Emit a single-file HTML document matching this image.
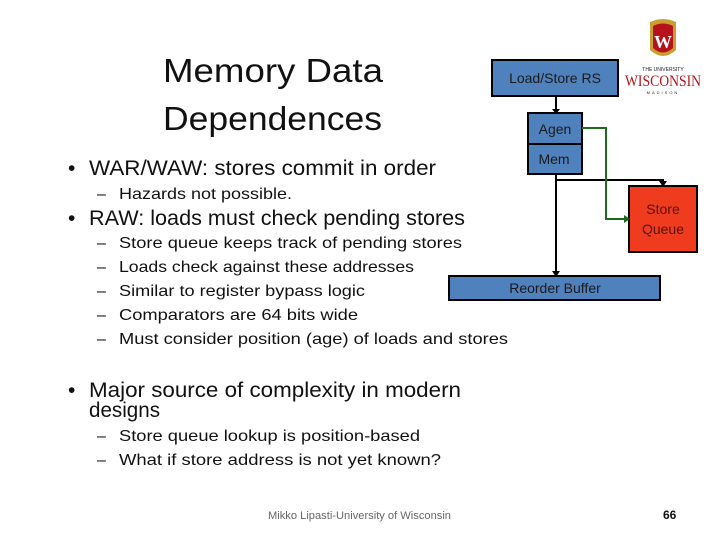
<!DOCTYPE html>
<html><head><style>body{margin:0;background:#fff}svg{display:block}</style></head><body>
<svg width="720" height="540" xmlns="http://www.w3.org/2000/svg" font-family="Liberation Sans, sans-serif">
<rect width="720" height="540" fill="#fff"/>
<g fill="#111">
<text x="163" y="82" font-size="33" textLength="220" lengthAdjust="spacingAndGlyphs">Memory Data</text>
<text x="163" y="130" font-size="33" textLength="219" lengthAdjust="spacingAndGlyphs">Dependences</text>
<text x="68" y="175" font-size="21">•</text>
<text x="89" y="175" font-size="21" textLength="347" lengthAdjust="spacingAndGlyphs">WAR/WAW: stores commit in order</text>
<text x="97" y="199" font-size="16">–</text>
<text x="119" y="199" font-size="16" textLength="173" lengthAdjust="spacingAndGlyphs">Hazards not possible.</text>
<text x="68" y="225" font-size="21">•</text>
<text x="89" y="225" font-size="21" textLength="376" lengthAdjust="spacingAndGlyphs">RAW: loads must check pending stores</text>
<g font-size="16">
<text x="97" y="248">–</text><text x="119" y="248" textLength="343" lengthAdjust="spacingAndGlyphs">Store queue keeps track of pending stores</text>
<text x="97" y="272">–</text><text x="119" y="272" textLength="295" lengthAdjust="spacingAndGlyphs">Loads check against these addresses</text>
<text x="97" y="296">–</text><text x="119" y="296" textLength="246" lengthAdjust="spacingAndGlyphs">Similar to register bypass logic</text>
<text x="97" y="320">–</text><text x="119" y="320" textLength="239" lengthAdjust="spacingAndGlyphs">Comparators are 64 bits wide</text>
<text x="97" y="344">–</text><text x="119" y="344" textLength="389" lengthAdjust="spacingAndGlyphs">Must consider position (age) of loads and stores</text>
</g>
<text x="68" y="397" font-size="21">•</text>
<text x="89" y="397" font-size="21" textLength="372" lengthAdjust="spacingAndGlyphs">Major source of complexity in modern</text>
<text x="89" y="417" font-size="21" textLength="71" lengthAdjust="spacingAndGlyphs">designs</text>
<g font-size="16">
<text x="97" y="441">–</text><text x="119" y="441" textLength="301" lengthAdjust="spacingAndGlyphs">Store queue lookup is position-based</text>
<text x="97" y="465">–</text><text x="119" y="465" textLength="322" lengthAdjust="spacingAndGlyphs">What if store address is not yet known?</text>
</g>
</g>
<text x="268" y="519" font-size="11" fill="#666" textLength="183" lengthAdjust="spacingAndGlyphs">Mikko Lipasti-University of Wisconsin</text>
<text x="663" y="519" font-size="12" font-weight="bold" fill="#111">66</text>

<!-- diagram -->
<g stroke="#000" stroke-width="2">
<rect x="492" y="60" width="126" height="36" fill="#4f81bd"/>
<rect x="528" y="113" width="54" height="31" fill="#4f81bd"/>
<rect x="528" y="144" width="54" height="30" fill="#4f81bd"/>
<rect x="629" y="186" width="68" height="66" fill="#f03c1e"/>
<rect x="449" y="276" width="211" height="24" fill="#4f81bd"/>
<path d="M556 96V110M556 174V272M556 180H663V183" fill="none"/>
</g>
<path d="M582 128H606V219H626" stroke="#1e6a1e" stroke-width="2" fill="none"/>
<g fill="#000">
<path d="M552 109L560 109L556 114Z"/><path d="M552 271L560 271L556 277Z"/><path d="M659 181L667 181L663 187Z"/>
</g>
<path d="M624 215L630 219L624 223Z" fill="#1e6a1e"/>
<g font-size="14" fill="#1a1a1a" text-anchor="middle">
<text x="555" y="83">Load/Store RS</text>
<text x="555" y="134">Agen</text>
<text x="554" y="164">Mem</text>
<text x="555" y="293">Reorder Buffer</text>
</g>
<g font-size="14" fill="#5a1208" text-anchor="middle">
<text x="663" y="214">Store</text>
<text x="663" y="234">Queue</text>
</g>
<!-- logo -->
<path d="M650 22Q663 16 676 22L676 50Q663 62 650 50Z" fill="#c8a032"/>
<path d="M653 26Q663 21 673 26L673 48Q663 57 653 48Z" fill="#b5121b"/>
<text x="663" y="48" font-size="18" font-weight="bold" fill="#fff" text-anchor="middle" font-family="Liberation Serif, serif">W</text>
<text x="663" y="71" font-size="5" fill="#222" text-anchor="middle">THE UNIVERSITY</text>
<text x="663" y="86" font-size="16" fill="#b5121b" text-anchor="middle" font-family="Liberation Serif, serif" textLength="76" lengthAdjust="spacingAndGlyphs">WISCONSIN</text>
<text x="663" y="94" font-size="4" fill="#222" text-anchor="middle" letter-spacing="2">MADISON</text>
</svg>
</body></html>
